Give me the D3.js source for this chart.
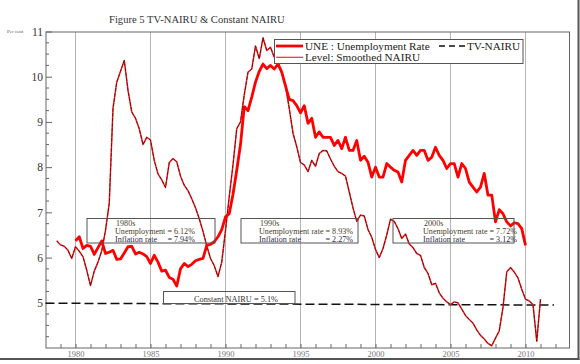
<!DOCTYPE html>
<html><head><meta charset="utf-8">
<script src="https://cdn.jsdelivr.net/npm/d3@7"></script>
<style>body{margin:0;background:#fff}svg{display:block}text{font-family:"Liberation Serif","Times New Roman",serif}</style>
</head><body><svg id="c" width="580" height="364"></svg>
<script>
// ---------- data ----------
const uneStart = 1980;           // quarterly observations
const uneValues = [
 6.37,6.46,6.20,6.27, 6.25,6.07,6.22,6.37, 6.09,6.12,6.16,5.96, 5.97,6.10,6.24,6.25,
 6.08,6.12,6.08,6.02, 5.87,6.05,5.90,5.70, 5.72,5.56,5.52,5.37, 5.75,5.87,5.80,5.85,
 5.93,5.96,5.98,6.27, 6.29,6.35,6.46,6.62, 6.90,6.97,7.40,7.93, 8.50,9.34,9.25,9.55,
 9.88,10.12,10.28,10.18, 10.25,10.17,10.28,10.10, 9.80,9.50,9.47,9.36, 9.20,9.36,8.97,9.08,
 8.66,8.78,8.66,8.66, 8.66,8.48,8.59,8.41, 8.66,8.37,8.37,8.59, 8.15,8.24,8.11,7.78,
 8.00,7.78,7.78,8.08, 8.00,7.93,7.89,7.67, 8.15,8.26,8.37,8.26, 8.37,8.37,8.15,8.22,
 8.44,8.26,8.15,7.97, 8.08,8.08,7.78,8.08, 7.97,7.67,7.56,7.45, 7.56,7.86,7.38,7.38,
 6.79,7.06,6.97,6.79, 6.70,6.77,6.75,6.64, 6.27
];
const nairuStart = 1978.75;      // quarterly observations
const nairuValues = [
 6.37, 6.28,6.25,6.16,5.98, 6.24,6.14,6.02,5.72, 5.38,5.70,5.90,6.15, 6.60,7.20,9.30,9.88,
 10.12,10.36,9.70,9.22, 9.08,8.85,8.50,8.66, 8.60,8.15,7.85,7.72, 7.55,8.10,8.19,8.12,
 7.80,7.60,7.48,7.30, 7.10,6.86,6.58,6.26, 5.98,5.82,5.58,5.90, 6.60,7.35,8.05,8.85,
 9.00,9.60,10.10,10.17, 10.68,10.40,10.86,10.58, 10.65,10.43,10.32,10.08, 9.80,9.30,8.75,8.45,
 8.10,8.05,7.90,8.15, 8.02,8.30,8.37,8.36, 8.18,8.02,7.90,7.86, 7.80,7.45,7.10,6.80,
 6.94,6.92,6.62,6.45, 6.18,6.00,6.20,6.50, 6.85,6.80,6.64,6.42, 6.52,6.30,6.22,6.09,
 6.05,5.78,5.65,5.40, 5.43,5.22,5.10,5.02, 4.96,5.02,5.00,4.86, 4.72,4.63,4.55,4.40,
 4.28,4.20,4.10,4.05, 4.22,4.38,4.90,5.68, 5.78,5.68,5.55,5.30, 5.08,5.04,4.96,4.15, 5.08
];
const constYears = [1978, 2011.9];
const constValues = [4.99, 4.95];
const xTickValues = [1980,1985,1990,1995,2000,2005,2010];
const yTickValues = [5,6,7,8,9,10,11];
const decades = ["1980s","1990s","2000s"];
const unempLabels = ["Unemployment = 6.12%","Unemployment rate = 8.93%","Unemployment rate = 7.72%"];
const inflLabels = ["Inflation rate","Inflation rate","Inflation rate"];
const inflValues = ["= 7.94%","= 2.27%","= 3.12%"];
const constLabel = "Constant NAIRU = 5.1%";
const titleText = "Figure 5 TV-NAIRU & Constant NAIRU";

// ---------- chart ----------
const svg = d3.select("#c");
const x = d3.scaleLinear().domain([1978, 2013]).range([45.5, 570.5]);
const y = d3.scaleLinear().domain([4, 11]).range([348, 31.5]);
const L = 46, R = 569.5, T = 32, B = 348;

const une = uneValues.map((v,i)=>({t: uneStart + i*0.25, v}));
const nairu = nairuValues.map((v,i)=>({t: nairuStart + i*0.25, v}));
const cst = constYears.map((t,i)=>({t, v: constValues[i]}));
const line = d3.line().x(d=>x(d.t)).y(d=>y(d.v));

// title & unit
svg.append("text").attr("x",109).attr("y",23).attr("font-size",10.6).attr("fill","#333").text(titleText);
svg.append("text").attr("x",7).attr("y",33).attr("font-size",5).attr("fill","#555").text("Per cent");

// vertical gridlines
svg.append("g").selectAll("line").data(xTickValues).join("line")
  .attr("x1",d=>x(d)).attr("x2",d=>x(d)).attr("y1",T).attr("y2",B)
  .attr("stroke","#b4b4b4").attr("stroke-width",1);

// plot frame
svg.append("rect").attr("x",L).attr("y",T).attr("width",R-L).attr("height",B-T)
  .attr("fill","none").attr("stroke","#666").attr("stroke-width",1);

// x axis ticks (yearly, inward) and labels
const xAxis = d3.axisBottom(x).tickValues(d3.range(1979, 2013)).tickSize(-4).tickFormat(d=> xTickValues.includes(d)? String(d) : "");
const gx = svg.append("g").attr("transform",`translate(0,${B})`).call(xAxis);
gx.attr("font-family",null);
gx.select(".domain").remove();
gx.selectAll(".tick line").attr("stroke","#666");
gx.selectAll(".tick text").attr("font-size",8.5).attr("fill","#777").attr("dy",0).attr("y",9);

// y axis ticks: minor every 0.25, major integer
const minor = d3.range(4.25, 11, 0.25).filter(v=>Math.abs(v-Math.round(v))>0.01);
svg.append("g").selectAll("line").data(minor).join("line")
  .attr("x1",L).attr("x2",L+3).attr("y1",d=>y(d)).attr("y2",d=>y(d)).attr("stroke","#666");
const yAxis = d3.axisLeft(y).tickValues(yTickValues).tickSize(-6).tickPadding(3).tickFormat(d3.format("d"));
const gy = svg.append("g").attr("transform",`translate(${L},0)`).call(yAxis);
gy.attr("font-family",null);
gy.select(".domain").remove();
gy.selectAll(".tick line").attr("stroke","#666");
gy.selectAll(".tick text").attr("font-size",11.5).attr("fill","#333").attr("x",-3);

// constant NAIRU dashed line
svg.append("path").datum(cst).attr("d",line).attr("fill","none")
  .attr("stroke","#111").attr("stroke-width",1.5).attr("stroke-dasharray","9,4");

// Smoothed NAIRU (thin red) with TV-NAIRU overlay (dark dashed)
svg.append("path").datum(nairu).attr("d",line).attr("fill","none")
  .attr("stroke","#ff2a2a").attr("stroke-width",1.5).attr("stroke-linejoin","round");
svg.append("path").datum(nairu).attr("d",line).attr("fill","none")
  .attr("stroke","#5a0000").attr("stroke-width",0.8).attr("stroke-dasharray","4,1").attr("stroke-linejoin","round");

// UNE thick red
svg.append("path").datum(une).attr("d",line).attr("fill","none")
  .attr("stroke","#ff0000").attr("stroke-width",2.8).attr("stroke-linejoin","round");

// annotation boxes
const boxes = [
  {x0:87, x1:215, tx:115},
  {x0:241, x1:358, tx:259},
  {x0:393, x1:514, tx:423}
];
boxes.forEach((b,i)=>{
  svg.append("rect").attr("x",b.x0).attr("y",218.5).attr("width",b.x1-b.x0).attr("height",24.5)
    .attr("fill","none").attr("stroke","#555").attr("stroke-width",1);
  svg.append("text").attr("x",b.tx+1).attr("y",225.6).attr("font-size",8.1).attr("fill","#4a3c28").text(decades[i]);
  const u = svg.append("text").attr("x",b.tx).attr("y",234).attr("font-size",8.1).attr("fill","#4a3c28").text(unempLabels[i]);
  const w = u.node().getComputedTextLength();
  svg.append("text").attr("x",b.tx).attr("y",242.4).attr("font-size",8.1).attr("fill","#2e2e48").text(inflLabels[i]);
  svg.append("text").attr("x",b.tx+w).attr("y",242.4).attr("font-size",8.1).attr("fill","#2e2e48").attr("text-anchor","end").text(inflValues[i]);
});
svg.append("rect").attr("x",163.5).attr("y",291.5).attr("width",131.5).attr("height",12)
  .attr("fill","none").attr("stroke","#555").attr("stroke-width",1);
svg.append("text").attr("x",194).attr("y",302.3).attr("font-size",8.3).attr("fill","#333").text(constLabel);

// legend
svg.append("rect").attr("x",274.5).attr("y",39.5).attr("width",248.5).attr("height",24)
  .attr("fill","#fff").attr("stroke","#555").attr("stroke-width",1);
svg.append("line").attr("x1",276).attr("x2",303).attr("y1",46).attr("y2",46).attr("stroke","#ff0000").attr("stroke-width",2.8);
svg.append("text").attr("x",305).attr("y",49.5).attr("font-size",11.2).attr("fill","#222").text("UNE : Unemployment Rate");
svg.append("line").attr("x1",439).attr("x2",466).attr("y1",46).attr("y2",46).attr("stroke","#111").attr("stroke-width",1.6).attr("stroke-dasharray","6,4");
svg.append("text").attr("x",467).attr("y",49.5).attr("font-size",11.2).attr("fill","#222").text("TV-NAIRU");
svg.append("line").attr("x1",276).attr("x2",303).attr("y1",57.3).attr("y2",57.3).attr("stroke","#ff2a2a").attr("stroke-width",1.2);
svg.append("text").attr("x",305).attr("y",60.5).attr("font-size",11.2).attr("fill","#222").text("Level: Smoothed NAIRU");

// outer frame (right & bottom)
svg.append("line").attr("x1",578.5).attr("x2",578.5).attr("y1",0).attr("y2",360).attr("stroke","#555").attr("stroke-width",2);
svg.append("line").attr("x1",0).attr("x2",579.5).attr("y1",359).attr("y2",359).attr("stroke","#555").attr("stroke-width",2);
</script></body></html>
